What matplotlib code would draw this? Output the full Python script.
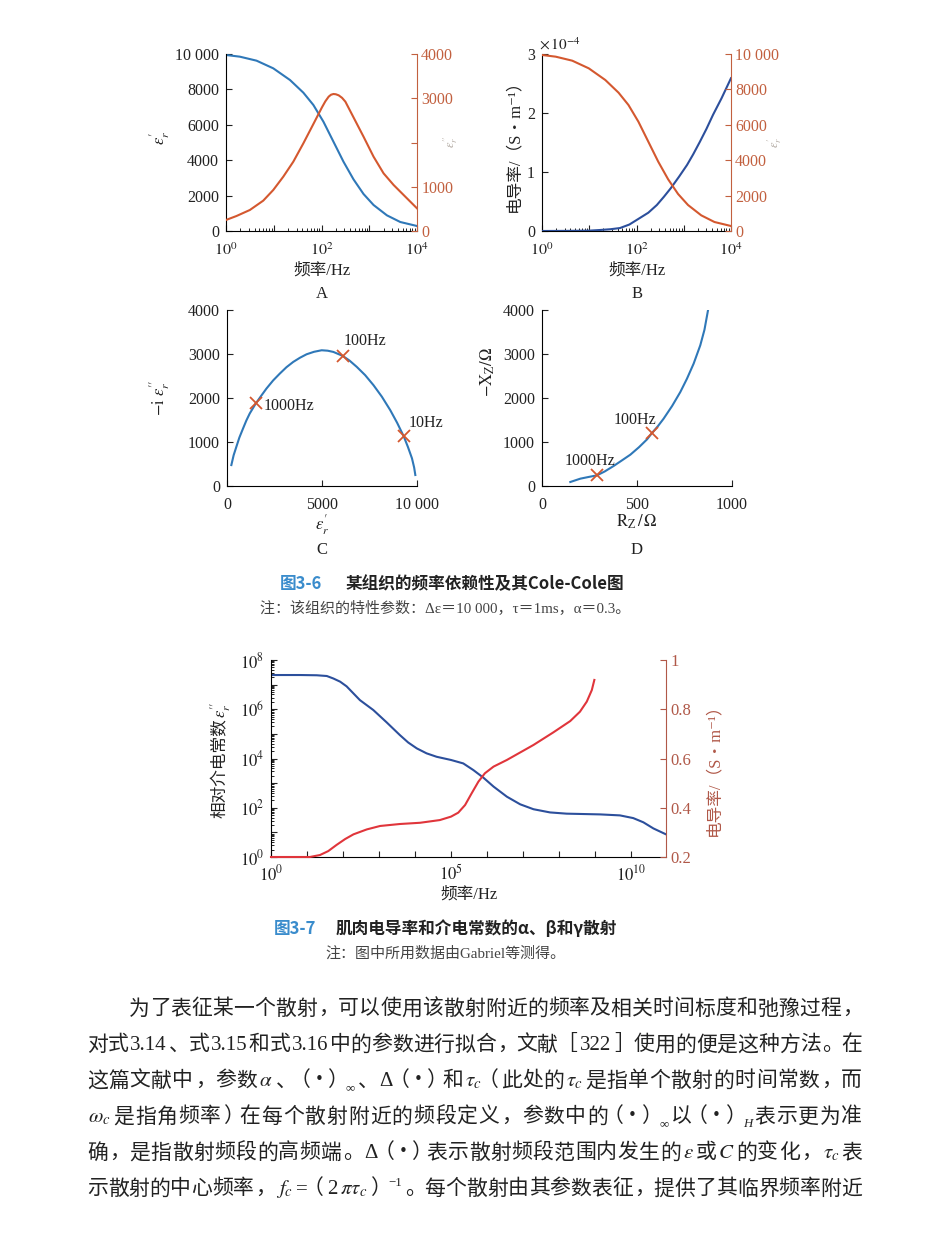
import numpy as np
import matplotlib
matplotlib.use('Agg')
import matplotlib.pyplot as plt
from matplotlib.ticker import FixedLocator, FixedFormatter, LogLocator, NullFormatter

plt.rcParams['font.family'] = ['Liberation Serif', 'Noto Sans CJK SC', 'DejaVu Sans']
plt.rcParams['mathtext.fontset'] = 'stix'
plt.rcParams['xtick.direction'] = 'in'
plt.rcParams['ytick.direction'] = 'in'

BLUE = '#2f78b8'
ORANGE = '#d4582f'
RAXIS = '#c2603f'
BLUE2 = '#2c4f9c'
RED2 = '#e0353b'
RAXIS2 = '#b05848'
TXT = '#222222'

# ---- 图3-6 A / B : 频率 (log10 Hz) ----
a_lf1 = [0, 0.29, 0.64, 0.99, 1.34, 1.62, 1.83, 2.04, 2.25, 2.46, 2.67, 2.88, 3.09, 3.37, 3.65, 4.0]
a_eps1 = [9944, 9849, 9623, 9190, 8531, 7815, 7119, 6177, 5047, 3917, 2919, 2090, 1469, 885, 508, 282]
a_lf2 = [0, 0.22, 0.50, 0.78, 0.99, 1.20, 1.41, 1.62, 1.83, 2.01, 2.08, 2.15, 2.20, 2.25, 2.30, 2.36,
         2.43, 2.50, 2.67, 2.88, 3.09, 3.30, 3.51, 3.79, 4.0]
a_eps2 = [249, 339, 475, 686, 927, 1228, 1567, 1981, 2418, 2795, 2930, 3036, 3080, 3096, 3090, 3066,
          3010, 2923, 2569, 2132, 1680, 1303, 1040, 738, 512]
b_lf = [0, 0.5, 1.0, 1.23, 1.45, 1.65, 1.85, 2.07, 2.25, 2.43, 2.58, 2.73, 2.9, 3.07, 3.2, 3.34, 3.48,
        3.62, 3.8, 4.0]
b_sigma = [0, 0.002, 0.006, 0.017, 0.03, 0.05, 0.11, 0.22, 0.31, 0.44, 0.58, 0.73, 0.92, 1.12, 1.3,
           1.51, 1.73, 1.97, 2.25, 2.59]  # x1e-4

# ---- C : Cole-Cole ----
c_re = [229, 350, 493, 650, 845, 1020, 1197, 1514, 1800, 2077, 2430, 2782, 3130, 3486, 3840, 4190, 4580,
        4982, 5300, 5599, 6092, 6450, 6831, 7270, 7711, 8150, 8592, 8950, 9296, 9520, 9736, 9850, 9912]
c_im = [476, 700, 892, 1100, 1308, 1490, 1648, 1875, 2050, 2215, 2400, 2556, 2700, 2820, 2915, 2994, 3050,
        3085, 3075, 3047, 2957, 2850, 2707, 2520, 2291, 2030, 1724, 1440, 1134, 890, 628, 420, 250]
c_mark_re = [1514, 6092, 9296]
c_mark_im = [1875, 2957, 1134]
c_mark_lab = ['1000Hz', '100Hz', '10Hz']
c_lab_pos = [(1937, 1724), (6162, 3198), (9560, 1331)]

# ---- D : 阻抗 ----
d_re = [149, 202, 245, 289, 330, 377, 420, 465, 510, 553, 579, 610, 640, 685, 728, 763, 798, 833, 855, 874]
d_im = [91, 167, 205, 242, 330, 455, 580, 712, 880, 1061, 1205, 1360, 1530, 1820, 2136, 2439, 2780, 3197,
        3550, 4000]
d_mark_re = [289, 579]
d_mark_im = [242, 1205]
d_mark_lab = ['1000Hz', '100Hz']
d_lab_pos = [(118, 485), (377, 1417)]

# ---- 图3-7 肌肉 ----
m_lf_eps = [0, 0.81, 1.27, 1.55, 1.73, 1.92, 2.10, 2.47, 2.84, 3.21, 3.58, 3.81, 4.05, 4.32, 4.60, 5.0,
            5.34, 5.62, 5.90, 6.18, 6.55, 6.92, 7.29, 7.75, 8.21, 9.14, 9.69, 10.06, 10.34, 10.62, 10.97]
m_log_eps = [7.39, 7.39, 7.38, 7.35, 7.25, 7.12, 6.93, 6.37, 5.97, 5.47, 4.95, 4.65, 4.41, 4.21, 4.07,
             3.94, 3.80, 3.53, 3.22, 2.86, 2.45, 2.14, 1.94, 1.81, 1.76, 1.73, 1.69, 1.58, 1.41, 1.16, 0.92]
m_lf_sig = [0, 1.08, 1.36, 1.59, 1.82, 2.06, 2.29, 2.66, 3.03, 3.58, 4.14, 4.69, 5.0, 5.20, 5.39, 5.57,
            5.76, 5.94, 6.18, 6.55, 7.29, 7.84, 8.31, 8.58, 8.77, 8.91, 8.98]
m_sig = [0.2, 0.2, 0.208, 0.224, 0.249, 0.273, 0.292, 0.312, 0.326, 0.334, 0.339, 0.350, 0.364, 0.380,
         0.411, 0.458, 0.506, 0.540, 0.567, 0.594, 0.655, 0.706, 0.752, 0.790, 0.831, 0.878, 0.919]

body = [
    [('为了表征某一个散射，可以使用该散射附近的频率及相关时间标度和弛豫过程，', 'n')],
    [('对式3.14、式3.15和式3.16中的参数进行拟合，文献［322］使用的便是这种方法。在', 'n')],
    [('这篇文献中，参数', 'n'), (r'$\alpha$', 'm'), ('、（・）', 'n'), ('∞', 'sub'), ('、Δ（・）和', 'n'),
     (r'$\tau_c$', 'm'), ('（此处的', 'n'), (r'$\tau_c$', 'm'), ('是指单个散射的时间常数，而', 'n')],
    [(r'$\omega_c$', 'm'), ('是指角频率）在每个散射附近的频段定义，参数中的（・）', 'n'), ('∞', 'sub'),
     ('以（・）', 'n'), ('H', 'isub'), ('表示更为准', 'n')],
    [('确，是指散射频段的高频端。Δ（・）表示散射频段范围内发生的', 'n'), (r'$\varepsilon$', 'm'), ('或', 'n'),
     (r'$C$', 'm'), ('的变化，', 'n'), (r'$\tau_c$', 'm'), ('表', 'n')],
    [('示散射的中心频率，', 'n'), (r'$f_c$', 'm'), ('=（2', 'n'), (r'$\pi\tau_c$', 'm'),
     ('）', 'n'), ('−1', 'sup'), ('。每个散射由其参数表征，提供了其临界频率附近', 'n')],
]

W, H = 947, 1252
fig = plt.figure(figsize=(W / 100, H / 100), dpi=100)


def box(x0, y0, x1, y1):
    return [x0 / W, 1 - y1 / H, (x1 - x0) / W, (y1 - y0) / H]


def ftext(x, y, s, **kw):
    return fig.text(x / W, 1 - y / H, s, **kw)


def base_style(ax, xpad=8):
    ax.spines['top'].set_visible(False)
    ax.spines['right'].set_visible(False)
    ax.tick_params(labelsize=11.5, length=4, width=0.8, colors=TXT)
    ax.tick_params(axis='x', pad=xpad)
    ax.tick_params(axis='y', pad=5)
    ax.tick_params(which='minor', length=2, width=0.6)
    ax.patch.set_alpha(0)


def twin_style(tw, col):
    for s in ['top', 'left', 'bottom']:
        tw.spines[s].set_visible(False)
    tw.spines['right'].set_color(col)
    tw.tick_params(axis='y', labelsize=11.5, length=4, width=0.8, colors=col, pad=3)


def log_x(ax, ticks, labels):
    ax.set_xscale('log')
    ax.xaxis.set_major_locator(FixedLocator(ticks))
    ax.xaxis.set_major_formatter(FixedFormatter(labels))
    ax.xaxis.set_minor_locator(LogLocator(base=10, subs=np.arange(2, 10) * 1.0, numticks=30))
    ax.xaxis.set_minor_formatter(NullFormatter())


# ---------- A ----------
axA = fig.add_axes(box(226, 54, 417, 231))
base_style(axA)
axA.plot(10 ** np.array(a_lf1), a_eps1, color=BLUE, lw=1.5)
log_x(axA, [1, 10, 100, 1000, 1e4], ['$10^{0}$', '', '$10^{2}$', '', '$10^{4}$'])
axA.set_xlim(1, 1e4)
axA.set_ylim(0, 10000)
axA.set_yticks([0, 2000, 4000, 6000, 8000, 10000])
axA.set_yticklabels(['0', '2000', '4000', '6000', '8000', '10 000'])
tA = axA.twinx()
twin_style(tA, RAXIS)
tA.plot(10 ** np.array(a_lf2), a_eps2, color=ORANGE, lw=1.5)
tA.set_ylim(0, 4000)
tA.set_yticks([0, 1000, 2000, 3000, 4000])
tA.set_yticklabels(['0', '1000', '', '3000', '4000'])

# ---------- B ----------
axB = fig.add_axes(box(542, 54, 731, 231))
base_style(axB)
axB.plot(10 ** np.array(b_lf), b_sigma, color=BLUE2, lw=1.5, zorder=3)
log_x(axB, [1, 10, 100, 1000, 1e4], ['$10^{0}$', '', '$10^{2}$', '', '$10^{4}$'])
axB.set_xlim(1, 1e4)
axB.set_ylim(0, 3)
axB.set_yticks([0, 1, 2, 3])
tB = axB.twinx()
twin_style(tB, RAXIS)
tB.plot(10 ** np.array(a_lf1), a_eps1, color=ORANGE, lw=1.5)
tB.set_ylim(0, 10000)
tB.set_yticks([0, 2000, 4000, 6000, 8000, 10000])
tB.set_yticklabels(['0', '2000', '4000', '6000', '8000', '10 000'])

# ---------- C ----------
axC = fig.add_axes(box(227, 310, 417, 486))
base_style(axC)
axC.plot(c_re, c_im, color=BLUE, lw=1.5)
axC.plot(c_mark_re, c_mark_im, ls='none', marker='x', ms=8, mew=1.3, color=ORANGE)
for lab, (lx, ly) in zip(c_mark_lab, c_lab_pos):
    axC.text(lx, ly, lab, fontsize=11.5, color=TXT, va='baseline', ha='left')
axC.set_xlim(0, 10000)
axC.set_ylim(0, 4000)
axC.set_xticks([0, 5000, 10000])
axC.set_xticklabels(['0', '5000', '10 000'])
axC.set_yticks([0, 1000, 2000, 3000, 4000])

# ---------- D ----------
axD = fig.add_axes(box(542, 310, 732, 486))
base_style(axD)
axD.plot(d_re, d_im, color=BLUE, lw=1.5)
axD.plot(d_mark_re, d_mark_im, ls='none', marker='x', ms=8, mew=1.3, color=ORANGE)
for lab, (lx, ly) in zip(d_mark_lab, d_lab_pos):
    axD.text(lx, ly, lab, fontsize=11.5, color=TXT, va='baseline', ha='left')
axD.set_xlim(0, 1000)
axD.set_ylim(0, 4000)
axD.set_xticks([0, 500, 1000])
axD.set_yticks([0, 1000, 2000, 3000, 4000])

# ---------- 图3-7 ----------
axM = fig.add_axes(box(271, 660, 666, 857))
base_style(axM, xpad=5)
axM.plot(10 ** np.array(m_lf_eps), 10 ** np.array(m_log_eps), color=BLUE2, lw=1.5)
axM.set_xscale('log')
axM.set_yscale('log')
axM.set_xlim(1, 10 ** 10.97)
axM.set_ylim(1, 1e8)
decs = [10.0 ** k for k in range(0, 11)]
axM.xaxis.set_major_locator(FixedLocator(decs))
axM.xaxis.set_major_formatter(FixedFormatter(['$10^{0}$', '', '', '', '', '$10^{5}$', '', '', '', '', '$10^{10}$']))
axM.xaxis.set_minor_locator(FixedLocator([]))
ydecs = [10.0 ** k for k in range(0, 9)]
axM.yaxis.set_major_locator(FixedLocator(ydecs))
axM.yaxis.set_major_formatter(FixedFormatter(['$10^{%d}$' % k if k % 2 == 0 else '' for k in range(9)]))
axM.yaxis.set_minor_locator(LogLocator(base=10, subs=np.arange(2, 10) * 1.0, numticks=30))
axM.yaxis.set_minor_formatter(NullFormatter())
axM.tick_params(labelsize=12)
tM = axM.twinx()
twin_style(tM, RAXIS2)
tM.plot(10 ** np.array(m_lf_sig), m_sig, color=RED2, lw=1.5, clip_on=False)
tM.set_ylim(0.2, 1.0)
tM.set_yticks([0.2, 0.4, 0.6, 0.8, 1.0])
tM.set_yticklabels(['0.2', '0.4', '0.6', '0.8', '1'])
tM.tick_params(labelsize=12)

# ---------- 轴标题 ----------
lab_kw = dict(fontsize=12, color=TXT, ha='center', va='center')
ftext(322, 271, '频率/Hz', **lab_kw)
ftext(637, 271, '频率/Hz', **lab_kw)
ftext(322, 294, 'A', **lab_kw)
ftext(637, 294, 'B', **lab_kw)
ftext(322, 525, r"$\varepsilon_r^{\prime}$", **lab_kw)
ftext(322, 550, 'C', **lab_kw)
ftext(637, 522, r'$\mathrm{R_Z\,/\,\Omega}$', **lab_kw)
ftext(637, 550, 'D', **lab_kw)
ftext(469, 895, '频率/Hz', **lab_kw)

ftext(160, 138, r"$\varepsilon_r^{\prime}$", rotation=90, **lab_kw)
ftext(451, 142, r"$\varepsilon_r^{\prime\prime}$", rotation=90, fontsize=9, color='#b0a8a0',
      ha='center', va='center')
ftext(514, 142, '电导率/（S・m⁻¹）', rotation=90, **lab_kw)
ftext(775, 142, r"$\varepsilon_r^{\prime}$", rotation=90, fontsize=9, color='#b0a8a0',
      ha='center', va='center')
ftext(560, 44, r'$\times\,10^{-4}$', fontsize=11, color=TXT, ha='center', va='center')
ftext(160, 398, r"$-\mathrm{i}\ \varepsilon_r^{\prime\prime}$", rotation=90, **lab_kw)
ftext(488, 372, r'$-\mathrm{X_Z/\Omega}$', rotation=90, **lab_kw)
ftext(221, 768, '相对介电常数', rotation=90, **lab_kw)
ftext(221, 710, r"$\varepsilon_r^{\prime\prime}$", rotation=90, **lab_kw)
ftext(714, 766, '电导率/（S・m⁻¹）', rotation=90, fontsize=12, color=RAXIS2, ha='center', va='center')

# ---------- 图注 ----------
CAP = ['Noto Sans CJK SC', 'DejaVu Sans']
ftext(280, 584, '图3-6', family=CAP, fontsize=12, weight='bold', color='#3a8ccc', ha='left', va='center')
ftext(346, 584, '某组织的频率依赖性及其Cole-Cole图', family=CAP, fontsize=12, weight='bold',
      color=TXT, ha='left', va='center')
ftext(445, 609, '注：该组织的特性参数：Δε＝10 000，τ＝1ms，α＝0.3。', fontsize=10.8, color='#444444',
      ha='center', va='center')
ftext(274, 929, '图3-7', family=CAP, fontsize=12, weight='bold', color='#3a8ccc', ha='left', va='center')
ftext(336, 929, '肌肉电导率和介电常数的α、β和γ散射', family=CAP, fontsize=12, weight='bold',
      color=TXT, ha='left', va='center')
ftext(445, 954, '注：图中所用数据由Gabriel等测得。', fontsize=10.8, color='#444444', ha='center', va='center')

# ---------- 正文 (两端对齐) ----------
r = fig.canvas.get_renderer()
BODY = ['Liberation Serif', 'Noto Sans CJK SC', 'DejaVu Sans']
SIZE = 15
EM = SIZE / 72 * 100
LEFT_P = '，。、：；）］'
RIGHT_P = '（［'
NARROW = {'・': 0.6, '（': 0.8, '）': 0.8}
SMALL = ('sub', 'isub', 'sup')


def is_cjk(ch):
    return ord(ch) >= 0x2E80


def body_line(segs, x0, x1, yb):
    items = []
    for text, kind in segs:
        if kind == 'n':
            run = ''
            for ch in text:
                if is_cjk(ch):
                    if run:
                        items.append((run, 'n'))
                        run = ''
                    items.append((ch, 'cjk'))
                else:
                    run += ch
            if run:
                items.append((run, 'n'))
        else:
            items.append((text, kind))
    placed = []
    for text, kind in items:
        fs = SIZE * 0.62 if kind in SMALL else SIZE
        st = 'italic' if kind == 'isub' else 'normal'
        t = fig.text(0, 0, text, fontsize=fs, style=st, family=BODY, va='baseline', ha='left', color=TXT)
        if kind == 'cjk':
            w = NARROW.get(text, 1.0) * EM
        elif kind in SMALL:
            w = t.get_window_extent(r).width + 0.2 * EM
        else:
            w = t.get_window_extent(r).width + 0.14 * EM
        placed.append((t, kind, w))
    n_gap = sum(1 for i, p in enumerate(placed) if i > 0 and p[1] not in SMALL)
    gap = (x1 - x0 - sum(p[2] for p in placed)) / max(n_gap, 1)
    x = x0
    for i, (t, kind, w) in enumerate(placed):
        if i > 0 and kind not in SMALL:
            x += gap
        y = yb
        if kind in ('sub', 'isub'):
            y = yb + 0.22 * EM
        elif kind == 'sup':
            y = yb - 0.42 * EM
        if kind == 'cjk':
            ch = t.get_text()
            if ch in LEFT_P:
                t.set_ha('left')
                t.set_position(((x + 0.06 * EM) / W, 1 - y / H))
            elif ch in RIGHT_P:
                t.set_ha('right')
                t.set_position(((x + w - 0.1 * EM) / W, 1 - y / H))
            else:
                t.set_ha('center')
                t.set_position(((x + w / 2) / W, 1 - y / H))
        elif kind in SMALL:
            t.set_position(((x + 0.14 * EM) / W, 1 - y / H))
        else:
            t.set_position(((x + 0.07 * EM) / W, 1 - y / H))
        x += w


line_y = [1007, 1043, 1079, 1115, 1151, 1187]
for k, segs in enumerate(body):
    x0 = 87 + (2 * EM if k == 0 else 0)
    body_line(segs, x0, 862, line_y[k] + 7.5)

fig.savefig('out.png', dpi=100)
